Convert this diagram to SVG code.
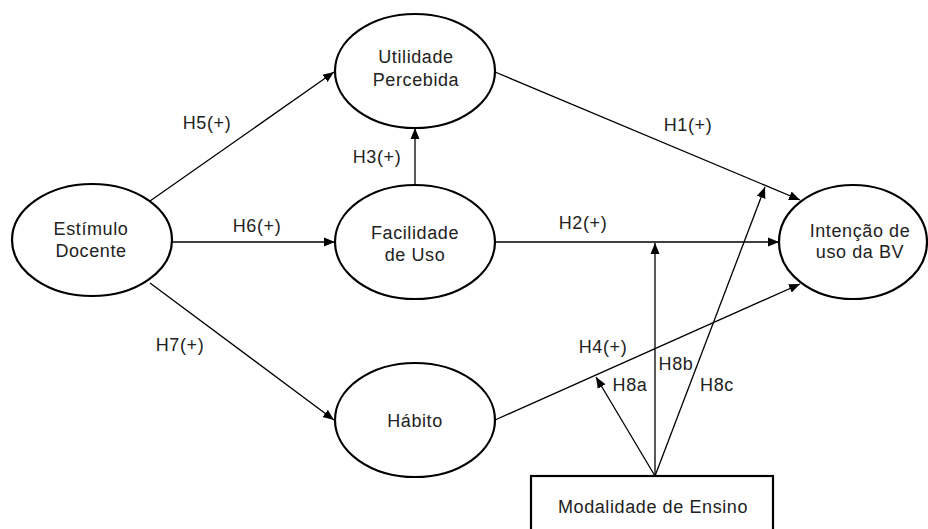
<svg xmlns="http://www.w3.org/2000/svg" width="928" height="529" viewBox="0 0 928 529">
<defs>
<marker id="ah" markerUnits="userSpaceOnUse" markerWidth="12" markerHeight="10" refX="11" refY="5" orient="auto">
<path d="M0,0.5 L11,5 L0,9.5 Z" fill="#000"/>
</marker>
<style>
.n{fill:#fff;stroke:#000;stroke-width:2.2}
.t{font-family:"Liberation Sans",Arial,sans-serif;font-size:18px;letter-spacing:0.6px;fill:#222;text-anchor:middle}
.c line{stroke:#000;stroke-width:1.3;marker-end:url(#ah)}
</style>
</defs>
<rect width="928" height="529" fill="#fff"/>
<g class="c" id="connectors">
<line x1="150" y1="201" x2="334" y2="72"/>
<line x1="172" y1="242" x2="335" y2="242"/>
<line x1="150" y1="283" x2="334" y2="420"/>
<line x1="415" y1="185" x2="415" y2="128"/>
<line x1="495" y1="72" x2="800" y2="200"/>
<line x1="495" y1="242" x2="779" y2="242"/>
<line x1="495" y1="420" x2="800" y2="284"/>
<line x1="655" y1="476" x2="596" y2="377"/>
<line x1="655" y1="476" x2="655" y2="243"/>
<line x1="655" y1="476" x2="765" y2="187"/>
</g>
<g id="labels" class="t">
<text x="207" y="129">H5(+)</text>
<text x="257" y="232">H6(+)</text>
<text x="180" y="351">H7(+)</text>
<text x="377" y="163">H3(+)</text>
<text x="688" y="131">H1(+)</text>
<text x="583" y="229">H2(+)</text>
<text x="603" y="353">H4(+)</text>
<text x="630" y="391">H8a</text>
<text x="676" y="370">H8b</text>
<text x="717" y="391">H8c</text>
</g>
<g id="estimulo">
<ellipse class="n" cx="92" cy="240" rx="80" ry="56"/>
<text class="t" x="91" y="235">Estímulo</text>
<text class="t" x="91" y="257">Docente</text>
</g>
<g id="utilidade">
<ellipse class="n" cx="415" cy="71" rx="80" ry="57"/>
<text class="t" x="416" y="63">Utilidade</text>
<text class="t" x="416" y="86">Percebida</text>
</g>
<g id="facilidade">
<ellipse class="n" cx="415" cy="242" rx="80" ry="57"/>
<text class="t" x="415" y="239">Facilidade</text>
<text class="t" x="415" y="261">de Uso</text>
</g>
<g id="habito">
<ellipse class="n" cx="415" cy="420" rx="80" ry="57"/>
<text class="t" x="415" y="427">Hábito</text>
</g>
<g id="intencao">
<ellipse class="n" cx="853" cy="242" rx="74" ry="57"/>
<text class="t" x="860" y="237">Intenção de</text>
<text class="t" x="860" y="258">uso da BV</text>
</g>
<g id="modalidade">
<rect class="n" x="531" y="476" width="242" height="60"/>
<text class="t" x="653" y="513">Modalidade de Ensino</text>
</g>
</svg>
